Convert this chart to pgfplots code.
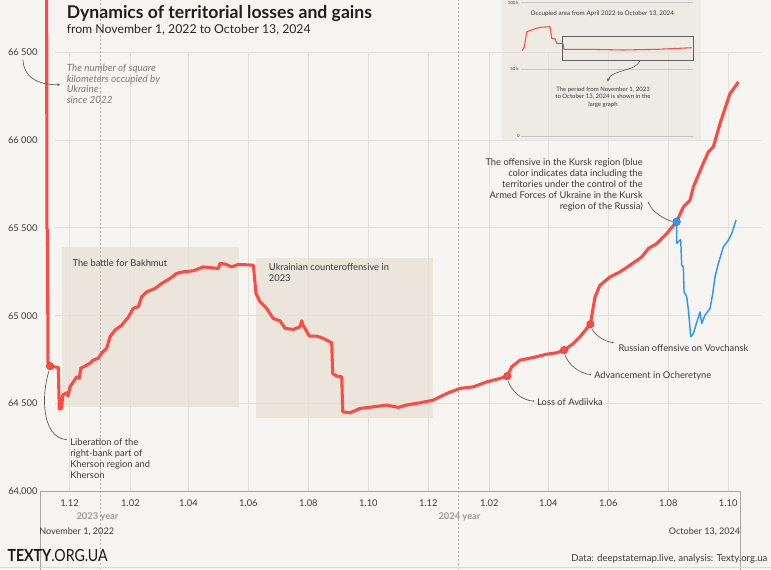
\documentclass[border=0pt]{standalone}
\usepackage{pgfplots}
\pgfplotsset{compat=1.18}
\usepackage{graphicx}
\usetikzlibrary{arrows.meta}
\usepackage{fontspec}
\setmainfont{Lato}
\definecolor{bg}{HTML}{F6F5F1}
\definecolor{beige}{HTML}{EBE5DC}
\definecolor{insetbg}{HTML}{EEEAE4}
\definecolor{redl}{HTML}{FF4A43}
\definecolor{redd}{HTML}{D93A33}
\definecolor{bluel}{HTML}{3197EE}
\definecolor{blued}{HTML}{1F7FD6}
\definecolor{gridc}{HTML}{E3E0DA}
\definecolor{txt}{HTML}{3A3A3A}
\definecolor{greyt}{HTML}{7A7A7A}
\definecolor{yeart}{HTML}{9A9A9A}
\definecolor{annot}{HTML}{5A5A5A}
\newcommand{\fs}[1]{\fontsize{#1}{#1}\selectfont}
\begin{document}
\begin{tikzpicture}
\fill[bg] (0,0) rectangle (578.25pt,426.75pt);
\begin{scope}[x=0.75pt,y=-0.75pt,yshift=426.75pt]
\fill[insetbg] (502,0) rectangle (701,140);
\end{scope}

\begin{axis}[
 at={(30pt,58.5pt)}, anchor=south west,
 scale only axis, width=525pt, height=368.78pt,
 xmin=0, xmax=712, ymin=64000, ymax=66800,
 axis line style={draw=none},
 major tick length=0pt,
 xtick={30,92,151,212,273,334,395,457,517,578,639,700},
 xticklabels={1.12,1.02,1.04,1.06,1.08,1.10,1.12,1.02,1.04,1.06,1.08,1.10},
 ytick={64000,64500,65000,65500,66000,66500},
 yticklabels={{64,000},{64 500},{65 000},{65 500},{66 000},{66 500}},
 ticklabel style={font=\fs{7}, text=txt, inner sep=0pt},
 xticklabel style={anchor=base, yshift=-11.6pt},
 yticklabel style={anchor=base east, xshift=-1.7pt, yshift=-2.6pt},
 clip=false,
]
% shaded periods
\fill[beige] (axis cs:22.1,64480) rectangle (axis cs:202.4,65391);
\fill[beige] (axis cs:219.7,64414) rectangle (axis cs:399.5,65329);
% grid
\pgfplotsinvokeforeach{64500,65000,65500,66000,66500}{
  \draw[gridc, line width=0.6pt] (axis cs:15.3,#1) -- (axis cs:734.4,#1);}
\pgfplotsinvokeforeach{30,92,151,212,273,334,395,457,517,578,639,700}{
  \draw[gridc, line width=0.6pt] (axis cs:#1,64000) -- (axis cs:#1,66500);}
% year lines
\draw[yeart!80, dash pattern=on 1.5pt off 1.5pt, line width=0.5pt] (axis cs:61,66800) -- (axis cs:61,64000) -- ++(0,-12pt);
\fill[yeart] (axis cs:61,64000) ++(0,-12pt) circle (0.9pt);
\draw[yeart!80, dash pattern=on 1.5pt off 1.5pt, line width=0.5pt] (axis cs:426,66800) -- (axis cs:426,64000) -- ++(0,-12pt);
\fill[yeart] (axis cs:426,64000) ++(0,-12pt) circle (0.9pt);
% x axis line and end ticks
\draw[gray!70, line width=0.6pt] (axis cs:0,64000) -- (axis cs:712,64000);
\draw[gray!70, line width=0.6pt] (axis cs:0,64000) -- ++(0,-21.5pt);
\fill[txt] (axis cs:0,64000) ++(0,-21.5pt) circle (0.8pt);
\draw[gray!70, line width=0.6pt] (axis cs:712,64000) -- ++(0,-21.5pt);
\fill[txt] (axis cs:712,64000) ++(0,-21.5pt) circle (0.8pt);

% Kursk (incl. Kursk region territory)
\addplot[bluel, line width=1.1pt, line join=round] coordinates {
(647.5,65534) (647.7,65411) (651.7,65433) (652.7,65287) (654.4,65277)
(655.1,65135) (657.8,65107) (659.5,65031) (661.9,64879) (664.6,64898)
(671.3,65021) (673.1,64955) (676.4,65002) (681.5,65040) (684.3,65126)
(686.6,65220) (690.0,65297) (695.1,65391) (700.2,65429) (703.6,65467)
(708.0,65543)};

% main series
\addplot[redl, line width=2.3pt, line join=round] coordinates {
(6.8,66800) (7.0,65498) (7.6,65486) (8.1,64735) (10.2,64712) (18.6,64704)
(19.6,64467) (22.1,64473) (23.1,64547) (27.2,64560) (28.5,64541) (30.5,64594)
(33.9,64622) (37.3,64651) (40.0,64643) (41.4,64700) (45.8,64712) (50.9,64729)
(54.2,64746) (59.3,64757) (62.8,64786) (67.8,64814) (71.2,64879) (76.3,64917)
(83.1,64945) (89.8,64991) (94.9,65042) (100.0,65050) (103.4,65107) (108.5,65135)
(117.0,65154) (123.8,65183) (132.2,65211) (139.0,65240) (145.8,65249) (155.9,65255)
(166.1,65277) (174.6,65272) (181.4,65268) (183.1,65297) (188.2,65293) (195.0,65277)
(201.7,65291) (217.0,65287) (219.7,65126) (223.8,65078) (230.6,65040) (237.3,64983)
(244.1,64970) (249.2,64927) (257.7,64921) (264.5,64936) (266.2,64970) (267.5,64945)
(269.5,64927) (273.9,64883) (281.5,64883) (288.2,64870) (296.7,64845) (297.7,64670)
(301.8,64655) (306.9,64651) (307.9,64452) (315.3,64446) (325.5,64471) (339.0,64480)
(352.6,64490) (364.5,64477) (373.0,64491) (386.5,64503) (399.8,64518) (413.7,64556)
(427.2,64585) (440.7,64594) (454.4,64622) (467.9,64642) (475.3,64655) (479.8,64708)
(488.2,64746) (501.7,64761) (515.4,64780) (525.6,64788) (533.0,64803) (542.5,64841)
(549.3,64879) (556.1,64927) (559.9,64951) (562.2,65031) (564.6,65107) (569.6,65173)
(579.8,65220) (590.0,65249) (600.2,65287) (612.1,65334) (618.8,65382) (627.4,65410)
(637.5,65467) (647.5,65534) (654.4,65619) (661.2,65657) (664.6,65733) (673.1,65847)
(679.8,65932) (684.9,65961) (691.7,66094) (698.5,66208) (701.9,66265) (707.0,66303)
(710.4,66331)};

% event markers
\addplot[only marks, mark=*, mark size=2.8pt, mark options={fill=redl, draw=redd, line width=0.4pt}]
 coordinates {(10.2,64712) (475.3,64655) (533.0,64803) (559.9,64951)};
\addplot[only marks, mark=*, mark size=2.9pt, mark options={fill=bluel, draw=blued, line width=0.4pt}]
 coordinates {(647.5,65534)};
\end{axis}

% inset chart
\begin{axis}[
 at={(390.5pt,324.75pt)}, anchor=south west,
 scale only axis, width=129pt, height=100pt,
 xmin=-0.3, xmax=30.7, ymin=0, ymax=100,
 axis line style={draw=none}, major tick length=0pt,
 xtick=\empty, ytick={0,50,100}, yticklabels={0,50 k.,100 k.},
 ymajorgrids, grid style={gray!45, line width=0.4pt},
 yticklabel style={font=\fs{3.2}, text=txt, inner sep=0.6pt},
 clip=false]
\addplot[redl, line width=0.8pt, line join=round] coordinates {
(0,64.0) (0.36,67.0) (0.8,78.2) (2.0,80.0) (3.2,81.5) (5.0,82.0) (5.3,73.3)
(5.9,72.8) (6.2,69.5) (7.3,69.5) (7.5,65.0) (12.2,65.0) (18.2,64.5) (24.2,65.0)
(30.5,66.2)};
\draw[gray!75!black, line width=0.6pt] (axis cs:7.3,74.5) rectangle (axis cs:30.9,56.8);
\end{axis}

\begin{scope}[x=0.75pt,y=-0.75pt,yshift=426.75pt]
% title
\node[anchor=base west, inner sep=0, font=\bfseries\fs{13.2}, text=black!88] at (66.5,18.5) {Dynamics of territorial losses and gains};
\node[anchor=base west, inner sep=0, font=\fs{9.2}, text=black!85] at (66.5,33.5) {from November 1, 2022 to October 13, 2024};
% italic note
\node[anchor=base west, inner sep=0, font=\itshape\fs{7.4}, text=greyt] at (66.5,72) {The number of square};
\node[anchor=base west, inner sep=0, font=\itshape\fs{7.4}, text=greyt] at (66.5,82.5) {kilometers occupied by};
\node[anchor=base west, inner sep=0, font=\itshape\fs{7.4}, text=greyt] at (66.5,93) {Ukraine};
\node[anchor=base west, inner sep=0, font=\itshape\fs{7.4}, text=greyt] at (66.5,103.5) {since 2022};
\draw[annot, line width=0.5pt, -{Stealth[length=2pt,width=2pt]}] (23,60) .. controls (24,80) and (42,85) .. (60,84.7);
% period labels
\node[anchor=base west, inner sep=0, font=\fs{7}, text=txt] at (72.3,266.5) {The battle for Bakhmut};
\node[anchor=base west, inner sep=0, font=\fs{7}, text=txt] at (268.7,270) {Ukrainian counteroffensive in};
\node[anchor=base west, inner sep=0, font=\fs{7}, text=txt] at (268.7,281.5) {2023};
% Kherson
\node[anchor=base west, inner sep=0, font=\fs{7}, text=txt] at (70,445) {Liberation of the};
\node[anchor=base west, inner sep=0, font=\fs{7}, text=txt] at (70,456) {right-bank part of};
\node[anchor=base west, inner sep=0, font=\fs{7}, text=txt] at (70,467) {Kherson region and};
\node[anchor=base west, inner sep=0, font=\fs{7}, text=txt] at (70,478) {Kherson};
\draw[annot, line width=0.5pt] (49,371) .. controls (41,395) and (42,436) .. (65,439.5);
\fill[annot] (66,439.5) circle (0.9);
% Avdiivka
\node[anchor=base west, inner sep=0, font=\fs{7}, text=txt] at (537,405) {Loss of Avdiivka};
\draw[annot, line width=0.5pt] (508,381) .. controls (512,392) and (522,400) .. (532.5,401);
\fill[annot] (533.3,401) circle (0.9);
% Ocheretyne
\node[anchor=base west, inner sep=0, font=\fs{7}, text=txt] at (594,378.5) {Advancement in Ocheretyne};
\draw[annot, line width=0.5pt] (565,355) .. controls (569,366) and (580,373) .. (589.5,374.5);
\fill[annot] (590.3,374.5) circle (0.9);
% Vovchansk
\node[anchor=base west, inner sep=0, font=\fs{7}, text=txt] at (618.3,351.5) {Russian offensive on Vovchansk};
\draw[annot, line width=0.5pt] (592,329) .. controls (596,336) and (604,341) .. (612,342.5);
\fill[annot] (612.8,342.5) circle (0.9);
% Kursk
\node[anchor=base east, inner sep=0, font=\fs{7}, text=txt] at (643,165.5) {The offensive in the Kursk region (blue};
\node[anchor=base east, inner sep=0, font=\fs{7}, text=txt] at (643,176.5) {color indicates data including the};
\node[anchor=base east, inner sep=0, font=\fs{7}, text=txt] at (643,187.3) {territories under the control of the};
\node[anchor=base east, inner sep=0, font=\fs{7}, text=txt] at (643,198) {Armed Forces of Ukraine in the Kursk};
\node[anchor=base east, inner sep=0, font=\fs{7}, text=txt] at (643,209) {region of the Russia)};
\draw[annot, line width=0.5pt] (649,203.5) .. controls (652,212) and (664,219) .. (672,221.5);
\fill[annot] (648.5,203) circle (0.9);
% inset texts
\node[anchor=base, inner sep=0, font=\fs{4.7}, text=txt] at (602.3,16) {Occupied area from April 2022 to October 13, 2024};
\node[anchor=base, inner sep=0, font=\fs{4.5}, text=txt] at (603,91.5) {The period from November 1, 2023};
\node[anchor=base, inner sep=0, font=\fs{4.5}, text=txt] at (603,98.9) {to October 13, 2024 is shown in the};
\node[anchor=base, inner sep=0, font=\fs{4.5}, text=txt] at (603,106.2) {large graph};
\draw[annot, line width=0.45pt, -{Stealth[length=2.6pt,width=2.2pt]}] (640,60.5) .. controls (636,72) and (612,69) .. (607.5,81.5);
% axis texts
\node[anchor=base, inner sep=0, font=\bfseries\fs{7}, text=yeart] at (97.5,519.5) {2023 year};
\node[anchor=base, inner sep=0, font=\bfseries\fs{7}, text=yeart] at (459.5,519.5) {2024 year};
\node[anchor=base west, inner sep=0, font=\fs{6.8}, text=txt] at (39,534.5) {November 1, 2022};
\node[anchor=base east, inner sep=0, font=\fs{6.8}, text=txt] at (740.5,534.5) {October 13, 2024};
% footer
\node[anchor=base west, inner sep=0, font=\fs{12.5}, text=black!90] at (7.3,561.7) {\scalebox{0.85}[1]{\textbf{TEXTY}.ORG.UA}};
\node[anchor=base east, inner sep=0, font=\fs{7.2}, text=txt] at (767.7,561.5) {Data: deepstatemap.live, analysis: Texty.org.ua};
\draw[gray!30, line width=0.6pt] (0,567.5) -- (771,567.5);
\end{scope}
\pgfresetboundingbox
\path[use as bounding box] (0,0) rectangle (578.25pt,426.75pt);
\end{tikzpicture}
\end{document}
